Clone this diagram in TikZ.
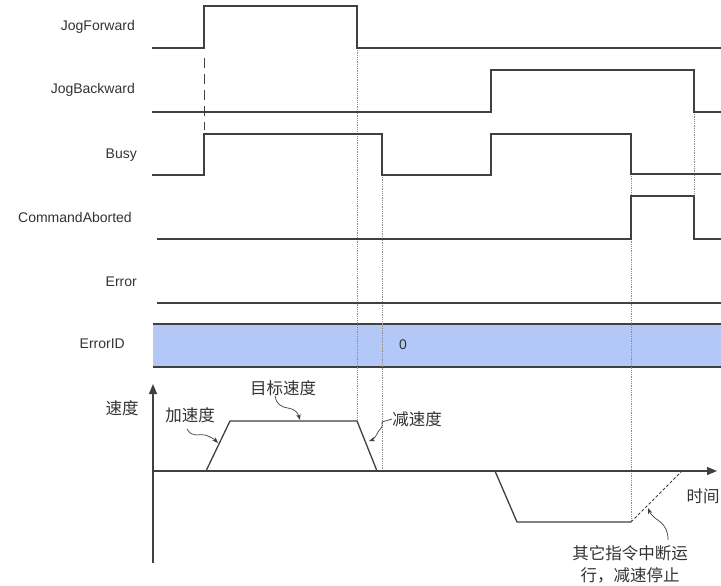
\documentclass[tikz,border=0pt]{standalone}
\usepackage{fontspec}
\setmainfont{Liberation Sans}
\newfontfamily\cjk{Noto Sans CJK SC}
\usetikzlibrary{arrows.meta}

\definecolor{idblue}{RGB}{180,200,248}

\begin{document}
\begin{tikzpicture}[
  x=1pt, y=-1pt,
  sig/.style={draw=black!75, line width=1.3pt},
  guide/.style={draw=black!45, densely dotted, line width=0.8pt},
  lbl/.style={anchor=east, font=\fontsize{14}{16}\selectfont, text=black!80, inner sep=0pt},
  cn/.style={font=\cjk\fontsize{16.5}{22}\selectfont, text=black!80, inner sep=0pt, align=center},
  axis/.style={draw=black!75, line width=1.3pt, -{Triangle[length=10pt,width=8pt]}},
  wave/.style={draw=black!75, line width=0.7pt, -{Stealth[length=6pt,width=4.5pt]}}
]
  \fill[white] (0,0) rectangle (721,586);
  \useasboundingbox (0,0) rectangle (721,586);

  % signal names
  \node[lbl] (jf)  at (135,27)  {JogForward};
  \node[lbl] (jb)  at (135,90)  {JogBackward};
  \node[lbl] (bsy) at (137,155) {Busy};
  \node[lbl] (ca)  at (132,217) {CommandAborted};
  \node[lbl] (err) at (137,282) {Error};
  \node[lbl] (eid) at (125,344) {ErrorID};

  % ErrorID band
  \fill[idblue] (153,324) rectangle (721,367);
  \draw[sig] (153,324) -- (721,324);
  \draw[sig] (153,367) -- (721,367);
  \node[font=\fontsize{14}{16}\selectfont, text=black!80] (zero) at (403,345) {0};

  % guides
  \draw[guide] (357,48) -- (357,421);
  \draw[guide] (382,175) -- (382,471);
  \draw[guide] (631,174) -- (631,522);
  \draw[guide] (694,112) -- (694,196);
  \draw[draw=black!75, line width=1pt, dash pattern=on 10pt off 6pt] (204,58) -- (204,130);

  % signals
  \draw[sig] (152,48) -- (204,48) -- (204,6) -- (357,6) -- (357,48) -- (721,48);
  \draw[sig] (152,112) -- (491,112) -- (491,70) -- (694,70) -- (694,112) -- (721,112);
  \draw[sig] (152,175) -- (204,175) -- (204,134) -- (382,134) -- (382,175)
    -- (491,175) -- (491,134) -- (631,134) -- (631,174) -- (721,174);
  \draw[sig] (157,239) -- (631,239) -- (631,196) -- (694,196) -- (694,239) -- (721,239);
  \draw[sig] (157,303) -- (721,303);

  % speed diagram
  \draw[axis] (153,563) -- (153,384);
  \draw[axis] (153,471) -- (717,471);
  \node[cn] (vel)  at (122,408) {速度};
  \node[cn] (time) at (703,496) {时间};

  \coordinate (acc)  at (218,443);
  \coordinate (top)  at (300,420);
  \coordinate (dec)  at (369,441);
  \coordinate (stop) at (648,508);

  \draw[sig] (206,471) -- (230,421) -- (357,421) -- (377,471);
  \draw[sig] (495,471) -- (517,522) -- (631,522);
  \draw[draw=black!75, line width=1pt, densely dashed] (631,522) -- (682,471);

  % notes
  \node[cn] (acclbl)  at (190,415) {加速度};
  \node[cn] (toplbl)  at (283,388) {目标速度};
  \node[cn] (declbl)  at (417,419) {减速度};
  \node[cn] (stoplbl) at (630,564) {其它指令中断运\\行，减速停止};

  \draw[wave] (187,429) .. controls (193,439) and (199,433) .. (205,435)
    .. controls (211,437) and (214,439) .. (acc);
  \draw[wave] (275,396) .. controls (276,403) and (280,407) .. (288,408)
    .. controls (295,409) and (298,413) .. (top);
  \draw[wave] (declbl.west) -- (382,422) .. controls (384,428) and (378,430) .. (377,434)
    .. controls (375,438) and (372,440) .. (dec);
  \draw[wave] (668,540) .. controls (668,532) and (666,526) .. (659,521)
    .. controls (653,517) and (650,513) .. (stop);
\end{tikzpicture}
\end{document}
